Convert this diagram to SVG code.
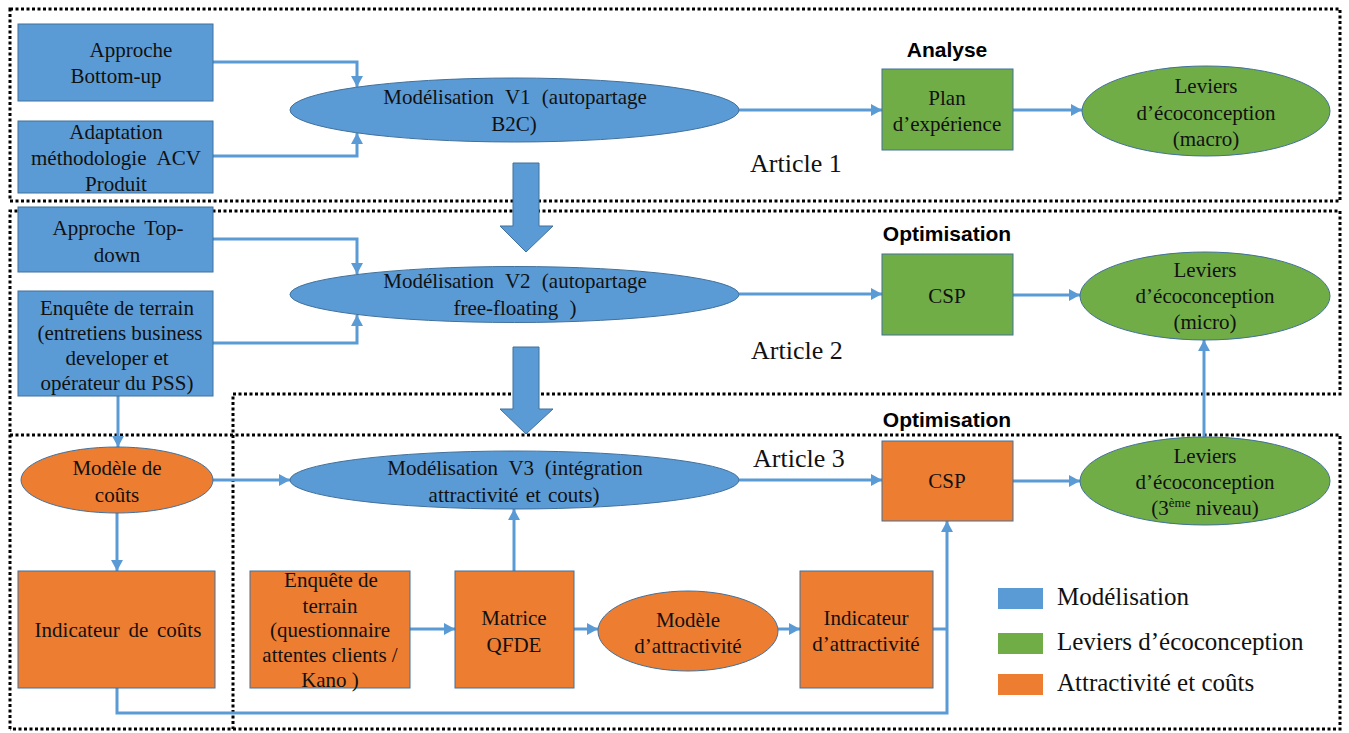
<svg xmlns="http://www.w3.org/2000/svg" width="1349" height="733" viewBox="0 0 1349 733">
<style>
.b{fill:#5B9BD5;stroke:#41719C;stroke-width:1}
.g{fill:#70AD47;stroke:#41719C;stroke-width:1}
.o{fill:#ED7D31;stroke:#41719C;stroke-width:1}
.t{font-family:"Liberation Serif","Times New Roman",serif;font-size:21px;fill:#111;text-anchor:middle}
.art{font-family:"Liberation Serif","Times New Roman",serif;font-size:26px;fill:#111}
.lg{font-family:"Liberation Serif","Times New Roman",serif;font-size:25px;fill:#111}
.h{font-family:"Liberation Sans",Arial,sans-serif;font-size:21px;font-weight:bold;fill:#000;text-anchor:middle}
.dot{fill:none;stroke:#000;stroke-width:3;stroke-dasharray:3 2.5}
.c{fill:none;stroke:#5B9BD5;stroke-width:3}
.ca{fill:none;stroke:#5B9BD5;stroke-width:3;marker-end:url(#ah)}
</style>
<defs>
<marker id="ah" markerUnits="userSpaceOnUse" markerWidth="12" markerHeight="12" refX="11" refY="6" orient="auto">
<path d="M0,0 L11,6 L0,12 z" fill="#5B9BD5"/>
</marker>
</defs>
<rect width="1349" height="733" fill="#fff"/>

<g id="regions">
<rect class="dot" x="10" y="9" width="1330" height="192"/>
<path class="dot" d="M10,729 V211 H1340 V394 H233 V729"/>
<path class="dot" d="M10,435 H1340 V729 H10"/>
</g>

<g id="labels">
<text class="h" x="947" y="57">Analyse</text>
<text class="h" x="947" y="241">Optimisation</text>
<text class="h" x="947" y="427">Optimisation</text>
<text class="art" x="750" y="172">Article 1</text>
<text class="art" x="751" y="359">Article 2</text>
<text class="art" x="753" y="467">Article 3</text>
</g>

<g id="bigarrows">
<path class="b" d="M513,163 H539 V226 H553 L526,252 L500,226 H513 Z"/>
<path class="b" d="M513,347 H539 V409 H553 L526,434 L500,409 H513 Z"/>
</g>

<g id="connectors">
<path class="ca" d="M213,62 H357 V87"/>
<path class="ca" d="M213,156 H357 V133"/>
<path class="ca" d="M739,110 H882"/>
<path class="ca" d="M1013,110 H1082"/>
<path class="ca" d="M213,239 H357 V274"/>
<path class="ca" d="M213,343 H357 V315"/>
<path class="ca" d="M739,294 H882"/>
<path class="ca" d="M1013,295 H1080"/>
<path class="ca" d="M118,396 V447"/>
<path class="ca" d="M213,480 H290"/>
<path class="ca" d="M739,480 H882"/>
<path class="ca" d="M1013,481 H1080"/>
<path class="ca" d="M1204,437 V340"/>
<path class="ca" d="M117,513 V571"/>
<path class="ca" d="M117,688 V713 H947 V521"/>
<path class="c" d="M933,629 H947"/>
<path class="ca" d="M410,629 H455"/>
<path class="ca" d="M514,571 V509"/>
<path class="ca" d="M574,629 H598"/>
<path class="ca" d="M778,629 H800"/>
</g>

<g id="n-bottomup">
<rect class="b" x="18" y="24" width="195" height="77"/>
<text class="t" x="131" y="57">Approche</text>
<text class="t" x="116" y="83">Bottom-up</text>
</g>
<g id="n-adaptation">
<rect class="b" x="18" y="121" width="195" height="72"/>
<text class="t" x="116" y="139">Adaptation</text>
<text class="t" x="116" y="165" word-spacing="6">méthodologie ACV</text>
<text class="t" x="116" y="191">Produit</text>
</g>
<g id="n-v1">
<ellipse class="b" cx="514.5" cy="110" rx="224.5" ry="32"/>
<text class="t" x="515" y="104" word-spacing="6">Modélisation V1 (autopartage</text>
<text class="t" x="514" y="131">B2C)</text>
</g>
<g id="n-plan">
<rect class="g" x="882" y="69" width="131" height="81"/>
<text class="t" x="947" y="105">Plan</text>
<text class="t" x="947" y="131">d’expérience</text>
</g>
<g id="n-leviers-macro">
<ellipse class="g" cx="1206" cy="111" rx="124" ry="45"/>
<text class="t" x="1206" y="93">Leviers</text>
<text class="t" x="1206" y="120">d’écoconception</text>
<text class="t" x="1206" y="146">(macro)</text>
</g>

<g id="n-topdown">
<rect class="b" x="18" y="207" width="195" height="65"/>
<text class="t" x="118" y="235" word-spacing="4">Approche Top-</text>
<text class="t" x="117" y="262">down</text>
</g>
<g id="n-enquete1">
<rect class="b" x="18" y="291" width="195" height="105"/>
<text class="t" x="117" y="315">Enquête de terrain</text>
<text class="t" x="120" y="340">(entretiens business</text>
<text class="t" x="117" y="365">developer et</text>
<text class="t" x="117" y="390">opérateur du PSS)</text>
</g>
<g id="n-v2">
<ellipse class="b" cx="514.5" cy="294.5" rx="224.5" ry="28"/>
<text class="t" x="515" y="288" word-spacing="6">Modélisation V2 (autopartage</text>
<text class="t" x="515" y="315" word-spacing="6">free-floating )</text>
</g>
<g id="n-csp1">
<rect class="g" x="882" y="254" width="131" height="81"/>
<text class="t" x="947" y="303">CSP</text>
</g>
<g id="n-leviers-micro">
<ellipse class="g" cx="1205" cy="296" rx="125" ry="44"/>
<text class="t" x="1205" y="277">Leviers</text>
<text class="t" x="1205" y="303">d’écoconception</text>
<text class="t" x="1205" y="329">(micro)</text>
</g>

<g id="n-modele-couts">
<ellipse class="o" cx="117" cy="480" rx="96" ry="33"/>
<text class="t" x="117" y="475">Modèle de</text>
<text class="t" x="117" y="502">coûts</text>
</g>
<g id="n-v3">
<ellipse class="b" cx="514.5" cy="480" rx="224.5" ry="29"/>
<text class="t" x="515" y="475" word-spacing="5.5">Modélisation V3 (intégration</text>
<text class="t" x="514" y="502" word-spacing="2">attractivité et couts)</text>
</g>
<g id="n-csp2">
<rect class="o" x="882" y="441" width="131" height="80"/>
<text class="t" x="947" y="488">CSP</text>
</g>
<g id="n-leviers-3">
<ellipse class="g" cx="1205" cy="481" rx="125" ry="44"/>
<text class="t" x="1205" y="463">Leviers</text>
<text class="t" x="1205" y="489">d’écoconception</text>
<text class="t" x="1205" y="515">(3<tspan font-size="13" dy="-8">ème</tspan><tspan dy="8"> niveau)</tspan></text>
</g>
<g id="n-indic-couts">
<rect class="o" x="18" y="571" width="197" height="117"/>
<text class="t" x="118" y="637" word-spacing="3.5">Indicateur de coûts</text>
</g>
<g id="n-enquete2">
<rect class="o" x="250" y="571" width="160" height="117"/>
<text class="t" x="331" y="587">Enquête de</text>
<text class="t" x="330" y="613">terrain</text>
<text class="t" x="330" y="637">(questionnaire</text>
<text class="t" x="330" y="662">attentes clients /</text>
<text class="t" x="330" y="687">Kano )</text>
</g>
<g id="n-matrice">
<rect class="o" x="455" y="571" width="119" height="117"/>
<text class="t" x="514" y="625">Matrice</text>
<text class="t" x="514" y="652">QFDE</text>
</g>
<g id="n-modele-attr">
<ellipse class="o" cx="688" cy="631" rx="90" ry="40"/>
<text class="t" x="688" y="627">Modèle</text>
<text class="t" x="688" y="653">d’attractivité</text>
</g>
<g id="n-indic-attr">
<rect class="o" x="800" y="571" width="133" height="117"/>
<text class="t" x="866" y="625">Indicateur</text>
<text class="t" x="866" y="651">d’attractivité</text>
</g>

<g id="legend">
<rect x="998" y="588" width="45" height="21" fill="#5B9BD5"/>
<text class="lg" x="1057" y="605">Modélisation</text>
<rect x="998" y="633" width="45" height="21" fill="#70AD47"/>
<text class="lg" x="1057" y="650">Leviers d’écoconception</text>
<rect x="998" y="674" width="45" height="21" fill="#ED7D31"/>
<text class="lg" x="1057" y="691">Attractivité et coûts</text>
</g>
</svg>
